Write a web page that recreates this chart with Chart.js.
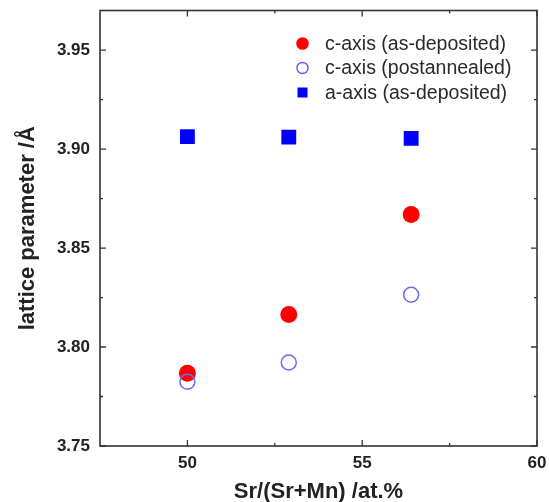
<!DOCTYPE html>
<html>
<head>
<meta charset="utf-8">
<script src="https://cdn.jsdelivr.net/npm/chart.js@4"></script>
<style>
  html, body { margin: 0; padding: 0; background: #fff; }
  #wrap { width: 549px; height: 502px; }
</style>
</head>
<body>
<div id="wrap"><canvas id="c" width="549" height="502"></canvas></div>
<script>
// data
const srContent = [50.0, 52.9, 56.4];
const cAsDeposited = [3.7867, 3.8164, 3.8669];
const cPostannealed = [3.7825, 3.7922, 3.8264];
const aAsDeposited = [3.9063, 3.9060, 3.9054];

const xTicks = [50, 55, 60];
const xMinorTicks = [52.5, 57.5];
const yTicks = [3.75, 3.80, 3.85, 3.90, 3.95];
const yMinorTicks = [3.775, 3.825, 3.875, 3.925];

const legendLabels = ["c-axis (as-deposited)", "c-axis (postannealed)", "a-axis (as-deposited)"];

const toPoints = (ys) => ys.map((y, i) => ({ x: srContent[i], y: y }));

// frame with inward ticks on all four sides
const framePlugin = {
  id: "frame",
  afterDatasetsDraw(chart) {
    const { ctx, chartArea: a, scales } = chart;
    ctx.save();
    ctx.strokeStyle = "#333";
    ctx.lineWidth = 1.6;
    ctx.strokeRect(a.left, a.top, a.right - a.left, a.bottom - a.top);
    ctx.lineWidth = 1.3;
    const tick = (vals, len, horiz) => {
      vals.forEach((v) => {
        ctx.beginPath();
        if (horiz) {
          const px = scales.x.getPixelForValue(v);
          ctx.moveTo(px, a.bottom); ctx.lineTo(px, a.bottom - len);
          ctx.moveTo(px, a.top); ctx.lineTo(px, a.top + len);
        } else {
          const py = scales.y.getPixelForValue(v);
          ctx.moveTo(a.left, py); ctx.lineTo(a.left + len, py);
          ctx.moveTo(a.right, py); ctx.lineTo(a.right - len, py);
        }
        ctx.stroke();
      });
    };
    tick(xTicks, 6, true);
    tick(xMinorTicks, 3, true);
    tick(yTicks, 6, false);
    tick(yMinorTicks, 3, false);
    ctx.restore();
  },
};

// legend drawn inside the plot, top right
const legendPlugin = {
  id: "insideLegend",
  afterDraw(chart) {
    const { ctx } = chart;
    const mx = 302.5, tx = 325, y0 = 43.5, dy = 24.5;
    ctx.save();
    ctx.font = "19.5px 'Liberation Sans', Arial, sans-serif";
    ctx.fillStyle = "#2a2a2a";
    ctx.textBaseline = "middle";
    legendLabels.forEach((t, i) => ctx.fillText(t, tx, y0 + i * dy + 1));
    // markers
    ctx.fillStyle = "#ff0000";
    ctx.beginPath(); ctx.arc(mx, y0, 6.3, 0, Math.PI * 2); ctx.fill();
    ctx.strokeStyle = "#5a5af5";
    ctx.lineWidth = 1.4;
    ctx.beginPath(); ctx.arc(mx, y0 + dy, 5.5, 0, Math.PI * 2); ctx.stroke();
    ctx.fillStyle = "#0000ff";
    ctx.fillRect(mx - 5, y0 + 2 * dy - 5, 10, 10);
    ctx.restore();
  },
};

const tickFont = { family: "'Liberation Sans', Arial, sans-serif", size: 17, weight: "bold" };
const titleFont = { family: "'Liberation Sans', Arial, sans-serif", size: 22, weight: "bold" };

new Chart(document.getElementById("c"), {
  type: "scatter",
  data: {
    datasets: [
      {
        label: legendLabels[0],
        data: toPoints(cAsDeposited),
        pointStyle: "circle",
        pointRadius: 8.5,
        backgroundColor: "#ff0000",
        borderColor: "#ff0000",
        borderWidth: 0,
        order: 1,
      },
      {
        label: legendLabels[1],
        data: toPoints(cPostannealed),
        pointStyle: "circle",
        pointRadius: 7.5,
        backgroundColor: "rgba(0,0,0,0)",
        borderColor: "#6a6af3",
        borderWidth: 1.5,
        order: 0,
      },
      {
        label: legendLabels[2],
        data: toPoints(aAsDeposited),
        pointStyle: "rect",
        pointRadius: 10.5,
        backgroundColor: "#0000ff",
        borderColor: "#0000ff",
        borderWidth: 0,
        order: 2,
      },
    ],
  },
  options: {
    responsive: false,
    animation: false,
    devicePixelRatio: 1,
    layout: { padding: { top: 8, right: 12, left: 0, bottom: -3 } },
    plugins: {
      legend: { display: false },
      tooltip: { enabled: false },
    },
    scales: {
      x: {
        type: "linear",
        min: 47.5,
        max: 60,
        grid: { display: false, drawTicks: false },
        border: { display: false },
        afterBuildTicks: (s) => { s.ticks = xTicks.map((v) => ({ value: v })); },
        afterFit: (s) => { s.height = 59; s.paddingLeft = 0; s.paddingRight = 0; },
        ticks: {
          font: tickFont,
          color: "#222",
          padding: 7,
          maxRotation: 0,
          callback: (v) => String(v),
        },
        title: {
          display: true,
          text: "Sr/(Sr+Mn) /at.%",
          font: titleFont,
          color: "#222",
          padding: { top: 4, bottom: 0 },
        },
      },
      y: {
        type: "linear",
        min: 3.75,
        max: 3.97,
        grid: { display: false, drawTicks: false },
        border: { display: false },
        afterBuildTicks: (s) => { s.ticks = yTicks.map((v) => ({ value: v })); },
        afterFit: (s) => { s.width = 100; s.paddingTop = 0; s.paddingBottom = 0; },
        ticks: {
          font: tickFont,
          color: "#222",
          padding: 10,
          callback: (v) => Number(v).toFixed(2),
        },
        title: {
          display: true,
          text: "lattice parameter /Å",
          font: titleFont,
          color: "#222",
          padding: { top: 15, bottom: 0 },
        },
      },
    },
  },
  plugins: [framePlugin, legendPlugin],
});
</script>
</body>
</html>
